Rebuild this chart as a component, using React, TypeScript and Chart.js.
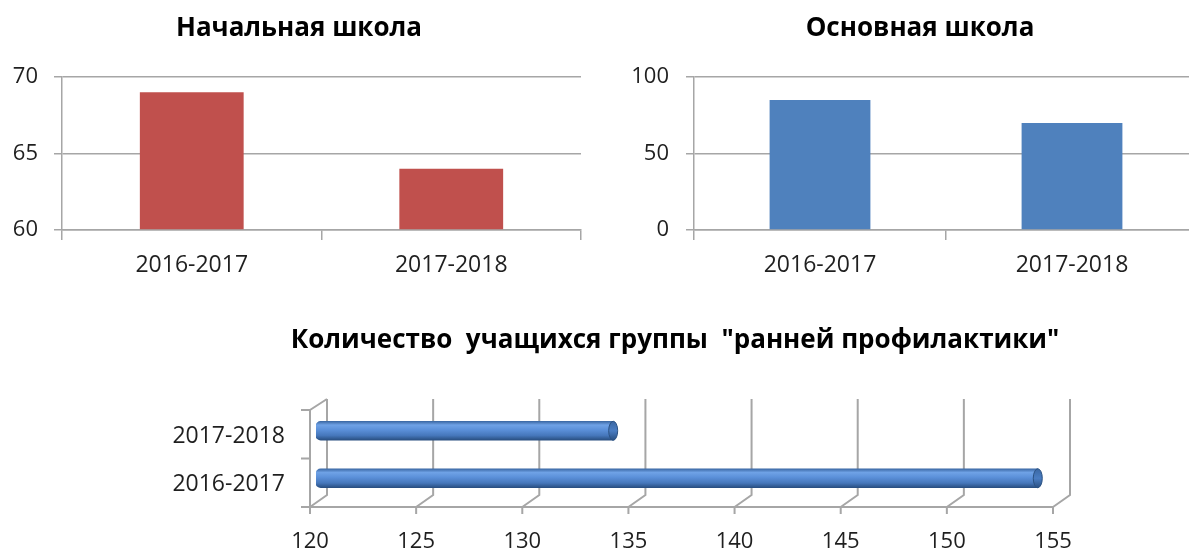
import React, { useEffect, useRef } from 'react';
import { Chart, registerables } from 'chart.js';

Chart.register(...registerables);

// ---------- data ----------
const years = ['2016-2017', '2017-2018'];
const primaryValues = [69, 64];
const basicValues = [85, 70];
const preventionValues = [154, 134];
const primaryTicks = [60, 65, 70];
const basicTicks = [0, 50, 100];
const preventionTicks = [120, 125, 130, 135, 140, 145, 150, 155];

const titlePrimary = 'Начальная школа';
const titleBasic = 'Основная школа';
const titlePrevention = 'Количество  учащихся группы  "ранней профилактики"';

// ---------- style ----------
const FONT = '"Open Sans", "Noto Sans", sans-serif';
const GRID = '#a6a6a6';
const TEXT = '#1f1f1f';
const RED = '#c0504d';
const BLUE = '#4f81bd';

// title drawn at a chosen centre (the source titles are not centred on the plot)
const placedTitle = {
  id: 'placedTitle',
  afterDraw(chart: any, _args: any, opts: any) {
    if (!opts || !opts.text) return;
    const { ctx } = chart;
    ctx.save();
    ctx.font = `bold ${opts.size}px ${FONT}`;
    ctx.fillStyle = '#000';
    ctx.textAlign = 'center';
    ctx.textBaseline = 'alphabetic';
    ctx.fillText(opts.text, opts.x, opts.baseline);
    ctx.restore();
  },
};

type ColumnProps = {
  title: string;
  titleX: number;
  values: number[];
  ticks: number[];
  color: string;
  width: number;
  height: number;
  axisWidth: number;
  padRight: number;
  labelPad: number;
};

function ColumnChart(p: ColumnProps) {
  const ref = useRef<HTMLCanvasElement>(null);
  useEffect(() => {
    const chart = new Chart(ref.current!, {
      type: 'bar',
      data: {
        labels: years,
        datasets: [
          {
            data: p.values,
            backgroundColor: p.color,
            borderWidth: 0,
            categoryPercentage: 1,
            barPercentage: 0.4,
            base: p.ticks[0],
          } as any,
        ],
      },
      options: {
        responsive: false,
        animation: false,
        layout: { padding: { left: 0, right: p.padRight, top: 77, bottom: 0 } },
        plugins: {
          legend: { display: false },
          tooltip: { enabled: false },
          title: { display: false },
          placedTitle: { text: p.title, x: p.titleX, baseline: 36, size: 26 },
        },
        scales: {
          x: {
            grid: { offset: true, drawOnChartArea: false, tickLength: 10, color: GRID, lineWidth: 1.5 },
            border: { color: GRID, width: 1.5 },
            ticks: { font: { family: FONT, size: 23 }, color: TEXT, padding: 12 },
            afterFit: (s: any) => {
              s.height = 60;
            },
          },
          y: {
            min: p.ticks[0],
            max: p.ticks[p.ticks.length - 1],
            afterBuildTicks: (s: any) => {
              s.ticks = p.ticks.map((v) => ({ value: v }));
            },
            grid: { tickLength: 8, color: GRID, lineWidth: 1.5 },
            border: { color: GRID, width: 1.5 },
            ticks: { font: { family: FONT, size: 22 }, color: TEXT, padding: p.labelPad },
            afterFit: (s: any) => {
              s.width = p.axisWidth;
            },
          },
        },
      } as any,
      plugins: [placedTitle],
    });
    return () => chart.destroy();
  }, []);
  return <canvas ref={ref} width={p.width} height={p.height} />;
}

const frame3d = {
  id: 'frame3d',
  beforeDatasetsDraw(chart: any) {
    const { ctx, chartArea: a, scales } = chart;
    const x = scales.x;
    const y = scales.y;
    const DXF = -6;
    const DXB = 11;
    const yFB = a.bottom + 5;
    const yBB = a.bottom - 7;
    const yBT = a.top - 8;
    const yFT = a.top + 3;
    ctx.save();
    ctx.strokeStyle = GRID;
    ctx.lineWidth = 2;
    ctx.beginPath();
    x.ticks.forEach((t: any) => {
      const px = x.getPixelForValue(t.value);
      const xf = px + DXF;
      const xb = px + DXB;
      ctx.moveTo(xb, yBT);
      ctx.lineTo(xb, yBB);
      ctx.lineTo(xf, yFB);
      ctx.moveTo(xf, yFB);
      ctx.lineTo(xf, yFB + 7);
    });
    const xl = x.getPixelForValue(x.min) + DXF;
    const xr = x.getPixelForValue(x.max) + DXF;
    ctx.moveTo(xl, yFB);
    ctx.lineTo(xr, yFB);
    ctx.moveTo(xl, yFB);
    ctx.lineTo(xl, yFT);
    ctx.lineTo(xl + (DXB - DXF), yBT);
    const n = y.ticks.length;
    for (let i = 0; i <= n; i++) {
      const yy = yFT + ((yFB - yFT) * i) / n;
      ctx.moveTo(xl - 9, yy);
      ctx.lineTo(xl, yy);
    }
    ctx.stroke();
    ctx.restore();
  },
};

const cylinderCaps = {
  id: 'cylinderCaps',
  afterDatasetsDraw(chart: any) {
    const { ctx } = chart;
    const meta = chart.getDatasetMeta(0);
    meta.data.forEach((el: any) => {
      const { x, y, height } = el.getProps(['x', 'y', 'height'], true);
      if (![x, y, height].every(Number.isFinite)) return;
      const ry = height / 2;
      const g = ctx.createLinearGradient(0, y - ry, 0, y + ry);
      g.addColorStop(0, '#3a67a3');
      g.addColorStop(0.5, '#4a7dc2');
      g.addColorStop(1, '#2a5083');
      ctx.save();
      ctx.beginPath();
      ctx.ellipse(x, y, 4.5, ry, 0, 0, Math.PI * 2);
      ctx.fillStyle = g;
      ctx.fill();
      ctx.strokeStyle = '#2b5283';
      ctx.lineWidth = 1;
      ctx.stroke();
      ctx.restore();
    });
  },
};

function CylinderChart() {
  const ref = useRef<HTMLCanvasElement>(null);
  useEffect(() => {
    const chart = new Chart(ref.current!, {
      type: 'bar',
      data: {
        labels: years,
        datasets: [
          {
            data: preventionValues,
            base: preventionTicks[0],
            barThickness: 19,
            borderWidth: 0,
            borderSkipped: 'right',
            borderRadius: 5,
            backgroundColor: (c: any) => {
              const ch = c.chart;
              const ys = ch.scales && ch.scales.y;
              if (!ys || c.dataIndex === undefined) return BLUE;
              const yc = ys.getPixelForValue(c.dataIndex);
              if (!Number.isFinite(yc)) return BLUE;
              const g = ch.ctx.createLinearGradient(0, yc - 9.5, 0, yc + 9.5);
              g.addColorStop(0, '#3b68a4');
              g.addColorStop(0.2, '#6fa2e6');
              g.addColorStop(0.45, '#5b90d9');
              g.addColorStop(0.75, '#4677bb');
              g.addColorStop(1, '#284e80');
              return g;
            },
          } as any,
        ],
      },
      options: {
        indexAxis: 'y',
        responsive: false,
        animation: false,
        layout: { padding: { left: 0, right: 130, top: 107, bottom: 0 } },
        plugins: {
          legend: { display: false },
          tooltip: { enabled: false },
          title: { display: false },
          placedTitle: { text: titlePrevention, x: 515, baseline: 48, size: 26 },
        },
        scales: {
          x: {
            min: preventionTicks[0],
            max: preventionTicks[preventionTicks.length - 1],
            afterBuildTicks: (s: any) => {
              s.ticks = preventionTicks.map((v) => ({ value: v }));
            },
            grid: { display: false, drawTicks: false },
            border: { display: false },
            ticks: { font: { family: FONT, size: 22 }, color: TEXT, padding: 27, labelOffset: -6 },
            afterFit: (s: any) => {
              s.height = 50;
            },
          },
          y: {
            reverse: true,
            grid: { display: false, drawTicks: false },
            border: { display: false },
            ticks: { font: { family: FONT, size: 23 }, color: TEXT, padding: 31, labelOffset: 6 },
            afterFit: (s: any) => {
              s.width = 156;
            },
          },
        },
      } as any,
      plugins: [frame3d, cylinderCaps, placedTitle],
    });
    return () => chart.destroy();
  }, []);
  return <canvas ref={ref} width={1029} height={252} />;
}

export default function App() {
  return (
    <div
      style={{
        position: 'fixed',
        left: 0,
        top: 0,
        width: 1189,
        height: 552,
        overflow: 'hidden',
        background: '#fff',
      }}
    >
      <div style={{ position: 'absolute', left: 0, top: 0, width: 600, height: 290 }}>
        <ColumnChart
          title={titlePrimary}
          titleX={299}
          values={primaryValues}
          ticks={primaryTicks}
          color={RED}
          width={600}
          height={290}
          axisWidth={62}
          padRight={19}
          labelPad={16}
        />
      </div>
      <div style={{ position: 'absolute', left: 610, top: 0, width: 579, height: 290, overflow: 'hidden' }}>
        <ColumnChart
          title={titleBasic}
          titleX={310}
          values={basicValues}
          ticks={basicTicks}
          color={BLUE}
          width={600}
          height={290}
          axisWidth={84}
          padRight={12}
          labelPad={17}
        />
      </div>
      <div style={{ position: 'absolute', left: 160, top: 300, width: 1029, height: 252 }}>
        <CylinderChart />
      </div>
    </div>
  );
}
